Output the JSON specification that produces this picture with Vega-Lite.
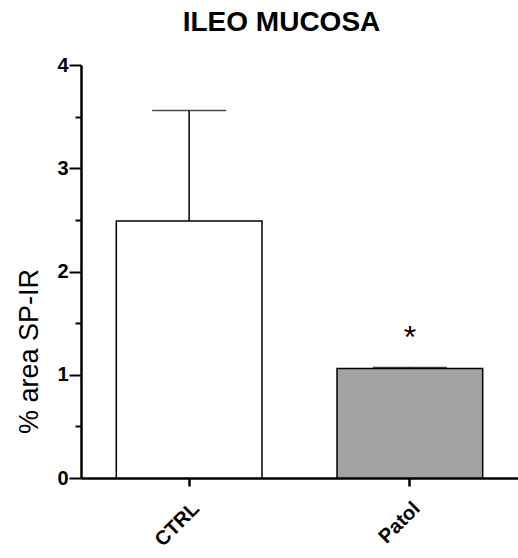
{
  "$schema": "https://vega.github.io/schema/vega-lite/v6.json",
  "autosize": "none",
  "padding": {"left": 81, "top": 65, "right": 0, "bottom": 80},
  "width": 437,
  "height": 413,
  "background": "white",
  "config": {"view": {"stroke": null}, "font": "Liberation Sans"},
  "title": {"text": "ILEO MUCOSA", "fontSize": 28, "fontWeight": "bold", "font": "Liberation Sans", "color": "black", "anchor": "middle", "dx": -18, "offset": 18, "frame": "group"},
  "data": {"values": [
    {"group": "CTRL", "mean": 2.49, "upper": 3.56, "sig": ""},
    {"group": "Patol", "mean": 1.06, "upper": 1.07, "sig": "*"}
  ]},
  "encoding": {
    "x": {"field": "group", "type": "nominal", "sort": null,
      "scale": {"paddingInner": 0.34, "paddingOuter": 0.16},
      "axis": {"title": null, "labelAngle": -45, "labelFontSize": 20, "labelFontWeight": "bold", "labelColor": "black", "labelFont": "Liberation Sans",
        "domainColor": "black", "domainWidth": 2.5, "tickColor": "black", "tickWidth": 2.5, "tickSize": 8, "labelPadding": 12}}
  },
  "layer": [
    {"mark": {"type": "rule", "color": "black", "strokeWidth": 1.5},
     "encoding": {"y": {"field": "mean", "type": "quantitative"}, "y2": {"field": "upper"}}},
    {"mark": {"type": "bar", "stroke": "black", "strokeWidth": 1.5},
     "encoding": {
       "y": {"field": "mean", "type": "quantitative", "scale": {"domain": [0, 4]},
         "axis": {"title": "% area SP-IR", "titleFontSize": 27, "titleFontWeight": "normal", "titleColor": "black", "titleFont": "Liberation Sans",
           "titleX": -44, "titleY": 286, "titleAngle": -90, "titleAlign": "center", "titleBaseline": "alphabetic",
           "values": [0, 0.5, 1, 1.5, 2, 2.5, 3, 3.5, 4],
           "labelExpr": "datum.value % 1 === 0 ? format(datum.value, 'd') : ''",
           "labelFontSize": 20, "labelFontWeight": "bold", "labelColor": "black", "labelFont": "Liberation Sans", "labelPadding": 1,
           "grid": false, "domainColor": "black", "domainWidth": 2.5, "tickColor": "black", "tickWidth": 2,
           "tickSize": {"condition": {"test": "datum.value % 1 === 0", "value": 12}, "value": 6}}},
       "fill": {"field": "group", "type": "nominal", "scale": {"domain": ["CTRL", "Patol"], "range": ["#ffffff", "#a3a3a6"]}, "legend": null}
     }},
    {"mark": {"type": "tick", "color": "black", "size": 74, "thickness": 1.5},
     "encoding": {"y": {"field": "upper", "type": "quantitative"}}},
    {"mark": {"type": "text", "fontSize": 32, "font": "Liberation Sans", "color": "black", "baseline": "alphabetic", "dy": -20},
     "encoding": {"y": {"field": "upper", "type": "quantitative"}, "text": {"field": "sig"}}}
  ]
}
